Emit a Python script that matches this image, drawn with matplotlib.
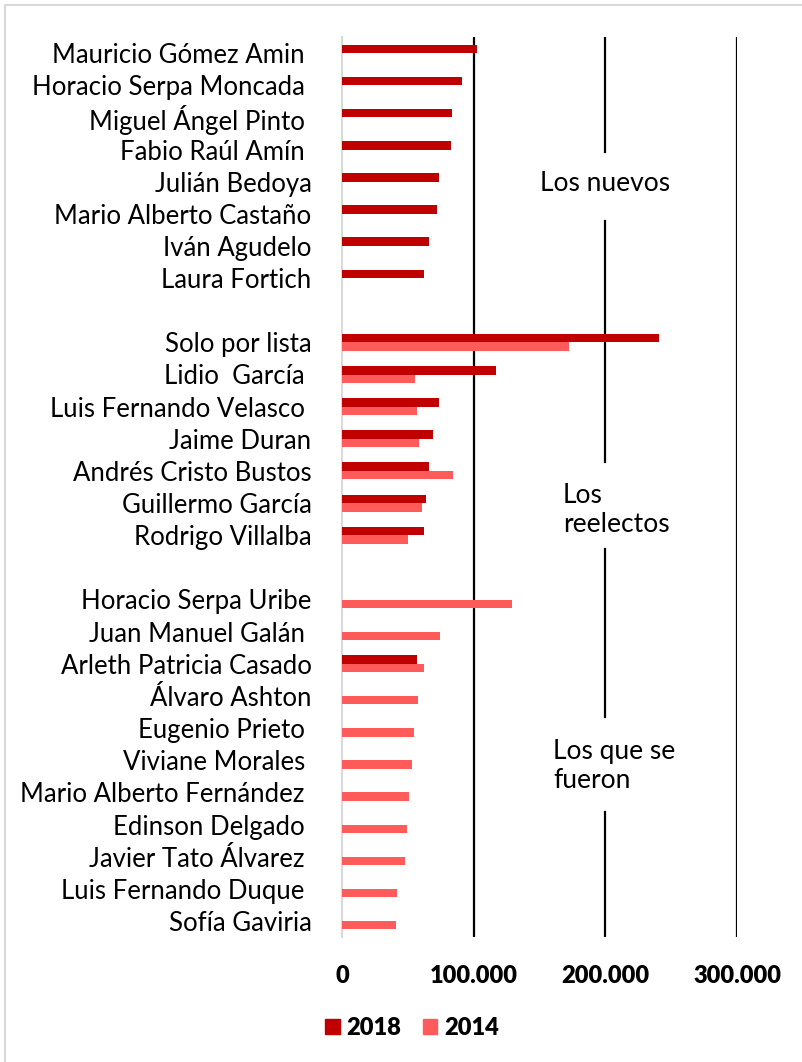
import numpy as np
import matplotlib
matplotlib.use("Agg")
import matplotlib.pyplot as plt
from matplotlib.patches import Rectangle, Patch
from matplotlib.ticker import FuncFormatter

# ---------------------------------------------------------------------------
# Data (votes)
# ---------------------------------------------------------------------------
nuevos = ["Mauricio Gómez Amin ", "Horacio Serpa Moncada ", "Miguel Ángel Pinto ",
          "Fabio Raúl Amín ", "Julián Bedoya", "Mario Alberto Castaño",
          "Iván Agudelo", "Laura Fortich"]
nuevos_2018 = [102300, 90900, 83500, 83000, 73900, 72400, 66300, 62000]

reelectos = ["Solo por lista", "Lidio  García ", "Luis Fernando Velasco ",
             "Jaime Duran", "Andrés Cristo Bustos", "Guillermo García",
             "Rodrigo Villalba"]
reelectos_2018 = [240700, 117200, 73700, 68800, 66300, 64000, 62000]
reelectos_2014 = [172400, 55200, 57000, 58200, 84300, 61000, 49900]

fueron = ["Horacio Serpa Uribe", "Juan Manuel Galán ", "Arleth Patricia Casado",
          "Álvaro Ashton", "Eugenio Prieto ", "Viviane Morales ",
          "Mario Alberto Fernández ", "Edinson Delgado ", "Javier Tato Álvarez ",
          "Luis Fernando Duque ", "Sofía Gaviria"]
fueron_2018 = [np.nan, np.nan, 56700, np.nan, np.nan, np.nan, np.nan, np.nan,
               np.nan, np.nan, np.nan]
fueron_2014 = [129000, 74700, 62500, 57500, 54900, 52900, 50900, 49100,
               48100, 41800, 41200]

xticks = [0, 100000, 200000, 300000]

# assemble rows with a blank slot between groups
labels = nuevos + [""] + reelectos + [""] + fueron
v2018 = nuevos_2018 + [np.nan] + reelectos_2018 + [np.nan] + fueron_2018
v2014 = [np.nan] * len(nuevos) + [np.nan] + reelectos_2014 + [np.nan] + fueron_2014
pos = np.arange(len(labels))

DARK = "#C00000"
LIGHT = "#FF5B5B"
FONT = ["Lato", "DejaVu Sans"]
plt.rcParams["font.family"] = FONT

fig = plt.figure(figsize=(8.02, 10.62), dpi=100)
ax = fig.add_axes([342 / 802, 1 - 937 / 1062, 395 / 802, 900 / 1062])

h = 0.265
ax.barh(pos - h / 2, v2018, height=h, color=DARK, label="2018", zorder=3)
ax.barh(pos + h / 2, v2014, height=h, color=LIGHT, label="2014", zorder=3)

ax.set_ylim(len(labels) - 0.5, -0.5)
ax.set_xlim(0, 300000)
ax.set_yticks(pos)
ax.set_yticklabels(labels, fontsize=18.5)
ax.set_xticks(xticks)
ax.xaxis.set_major_formatter(FuncFormatter(lambda v, _: f"{int(v):,}".replace(",", ".")))
for t in ax.get_xticklabels():
    t.set_fontweight("heavy")
    t.set_fontsize(17)
ax.tick_params(axis="y", length=0, pad=22)
ax.tick_params(axis="x", length=0, pad=20)

for s in ["top", "right", "bottom"]:
    ax.spines[s].set_visible(False)
ax.spines["left"].set_color("#D9D9D9")
ax.spines["left"].set_linewidth(1.5)

# gridlines (the 200.000 line is interrupted by the text boxes)
ax.axvline(100000, color="black", lw=1.6, zorder=1)
ax.axvline(300000, color="black", lw=1.6, zorder=1)
for lo, hi in [(0, 0.1389), (0.2444, 0.4311), (0.5278, 0.7956), (0.8722, 1)]:
    ax.axvline(200000, ymin=lo, ymax=hi, color="black", lw=1.6, zorder=1)

ax.text(150400, 4.07, "Los nuevos", fontsize=19, va="center", ha="left")
ax.text(167800, 14.22, "Los\nreelectos", fontsize=19, va="center", ha="left",
        linespacing=1.2)
ax.text(160200, 22.18, "Los que se\nfueron", fontsize=19, va="center", ha="left",
        linespacing=1.2)

handles = [Patch(color=DARK, label="2018"), Patch(color=LIGHT, label="2014")]
fig.legend(handles=handles, loc="center", bbox_to_anchor=(0.514, 0.032), ncol=2,
           frameon=False, prop={"weight": "heavy", "size": 17, "family": FONT},
           handlelength=0.62, handleheight=0.62, handletextpad=0.3,
           columnspacing=0.9)

# chart border
fig.patches.append(Rectangle((5 / 802, -0.1), 1.2, 1 - 5 / 1062 + 0.1,
                             transform=fig.transFigure, fill=False,
                             edgecolor="#D9D9D9", lw=1.5))

fig.savefig("out.png", dpi=100)
